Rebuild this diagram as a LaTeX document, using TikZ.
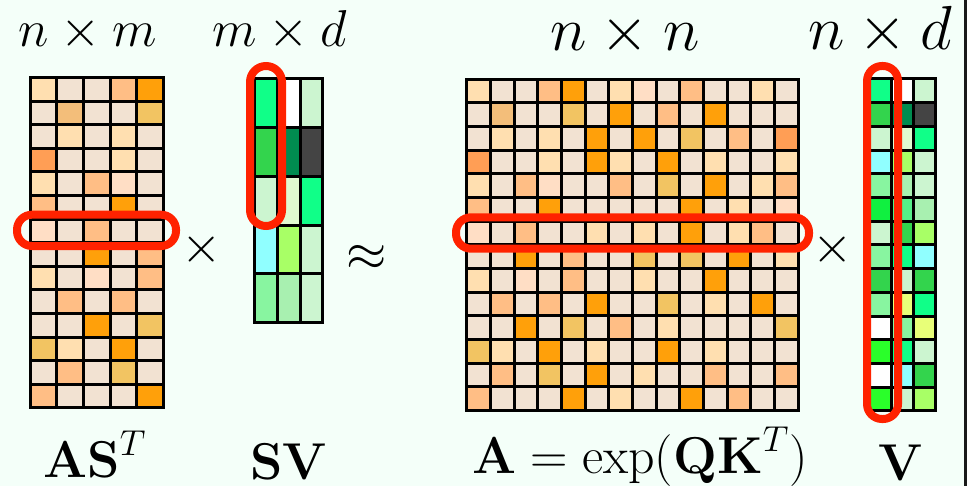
\documentclass[tikz,border=0pt]{standalone}
\usepackage{amsmath}
\usepackage{xcolor}

\definecolor{bgmint}{HTML}{F4FFF9}
\definecolor{hlred}{HTML}{FF2200}
% orange shades of the score matrix
\definecolor{a0}{HTML}{F2E2D2}
\definecolor{a1}{HTML}{FFDFB0}
\definecolor{a2}{HTML}{FFDEC5}
\definecolor{a3}{HTML}{FFBE85}
\definecolor{a4}{HTML}{FFA00A}
\definecolor{a5}{HTML}{F2C462}
\definecolor{a6}{HTML}{FF9E55}
\definecolor{a7}{HTML}{F3BE7A}
% green shades of the value matrix
\definecolor{v0}{HTML}{FFFFFF}
\definecolor{v1}{HTML}{10FF88}
\definecolor{v2}{HTML}{CCF5D0}
\definecolor{v3}{HTML}{33D44D}
\definecolor{v4}{HTML}{008C50}
\definecolor{v5}{HTML}{444444}
\definecolor{v6}{HTML}{E0FAD0}
\definecolor{v7}{HTML}{90FFFF}
\definecolor{v8}{HTML}{A8FF66}
\definecolor{v9}{HTML}{88F5A0}
\definecolor{v10}{HTML}{A8F0B0}
\definecolor{v11}{HTML}{10F040}
\definecolor{v12}{HTML}{55F088}
\definecolor{v13}{HTML}{E8FF78}
\definecolor{v14}{HTML}{2AFF2A}

\def\Arows{{1,0,0,3,4,0,1,2,0,3,0,0,1,0},{0,7,0,0,5,0,4,0,3,0,4,0,0,0},{0,1,0,1,0,4,0,4,0,5,0,3,0,6},{6,0,0,1,0,4,1,0,4,0,1,0,0,1},{1,0,3,2,0,0,3,0,5,0,4,0,1,3},{3,0,0,4,0,0,0,0,0,4,0,1,0,2},{2,0,3,0,0,1,0,1,0,4,0,1,3,0},{0,0,4,0,3,0,0,5,0,5,0,4,0,1},{1,0,2,0,3,0,0,1,0,0,4,0,0,0},{0,3,0,3,0,4,0,0,5,0,1,0,4,0},{0,0,4,0,5,0,3,0,1,0,0,0,0,5},{5,1,0,4,0,1,0,0,4,0,1,0,0,0},{0,3,0,5,0,4,0,1,0,0,3,0,0,3},{3,0,0,0,4,0,1,0,0,4,0,3,0,0}}
\def\Vrows{{1,0,2},{3,4,5},{2,6,1},{7,8,2},{9,10,2},{11,12,10},{2,3,8},{9,1,7},{3,2,3},{9,13,1},{0,9,13},{14,1,2},{0,7,3},{14,2,8}}

\begin{document}
\begin{tikzpicture}[x=0.4pt, y=-0.4pt,
cell/.style={draw=black, line width=1.2pt},
hilite/.style={draw=hlred, line width=3.2pt, rounded corners=6pt},
lbl/.style={font=\fontsize{20.74}{25}\selectfont, inner sep=0pt, anchor=base},
biglbl/.style={font=\fontsize{24.88}{30}\selectfont, inner sep=0pt, anchor=base},
sym/.style={font=\fontsize{20.74}{25}\selectfont, inner sep=0pt}
]
\useasboundingbox (0,0) rectangle (970,486);
\fill[bgmint] (0,0) rectangle (970,486);
\fill[white] (967,0) rectangle (970,486);
\draw[line width=1.2pt, black!90] (965.5,0) -- (965.5,486);

% AS^T (first five columns of A)
\foreach \row [count=\r] in \Arows {
  \foreach \c [count=\k] in \row {
    \ifnum\k<6
      \draw[cell, fill=a\c] ({30+(\k-1)*26.67},{77.5+(\r-1)*23.6}) rectangle ++(26.67,23.6);
    \fi
  }
}
% A
\foreach \row [count=\r] in \Arows {
  \foreach \c [count=\k] in \row {
    \draw[cell, fill=a\c] ({466.7+(\k-1)*23.69},{79.3+(\r-1)*23.66}) rectangle ++(23.69,23.66);
  }
}
% SV (first five rows of V)
\foreach \row [count=\r] in \Vrows {
  \ifnum\r<6
    \foreach \c [count=\k] in \row {
      \draw[cell, fill=v\c] ({254.5+(\k-1)*22.8},{79+(\r-1)*48.7}) rectangle ++(22.8,48.7);
    }
  \fi
}
% V
\foreach \row [count=\r] in \Vrows {
  \foreach \c [count=\k] in \row {
    \draw[cell, fill=v\c] ({869.3+(\k-1)*21.9},{79+(\r-1)*23.7}) rectangle ++(21.9,23.7);
  }
}

% highlighted row and columns
\draw[hilite] (17,214.7) rectangle (176,246);
\draw[hilite, rounded corners=6.4pt] (250,66) rectangle (282,226);
\draw[hilite] (456,217.3) rectangle (809,248.7);
\draw[hilite] (867,66) rectangle (898,419);

% sizes
\node[lbl] (dimAS) at (88,47) {$n\times m$};
\node[lbl] (dimSV) at (280,47) {$m\times d$};
\node[biglbl] (dimA) at (625,51) {$n\times n$};
\node[biglbl] (dimV) at (880,50) {$n\times d$};

% operators
\node[sym] (timesL) at (202,250) {$\times$};
\node[sym] (approx) at (367,258) {$\approx$};
\node[sym] (timesR) at (833,250) {$\times$};

% names
\node[lbl] (nameAS) at (95,477) {$\mathbf{AS}^T$};
\node[lbl] (nameSV) at (289,479) {$\mathbf{SV}$};
\node[lbl] (nameA) at (640,473) {$\mathbf{A}=\exp(\mathbf{QK}^T)$};
\node[lbl] (nameV) at (901,480) {$\mathbf{V}$};
\end{tikzpicture}
\end{document}
